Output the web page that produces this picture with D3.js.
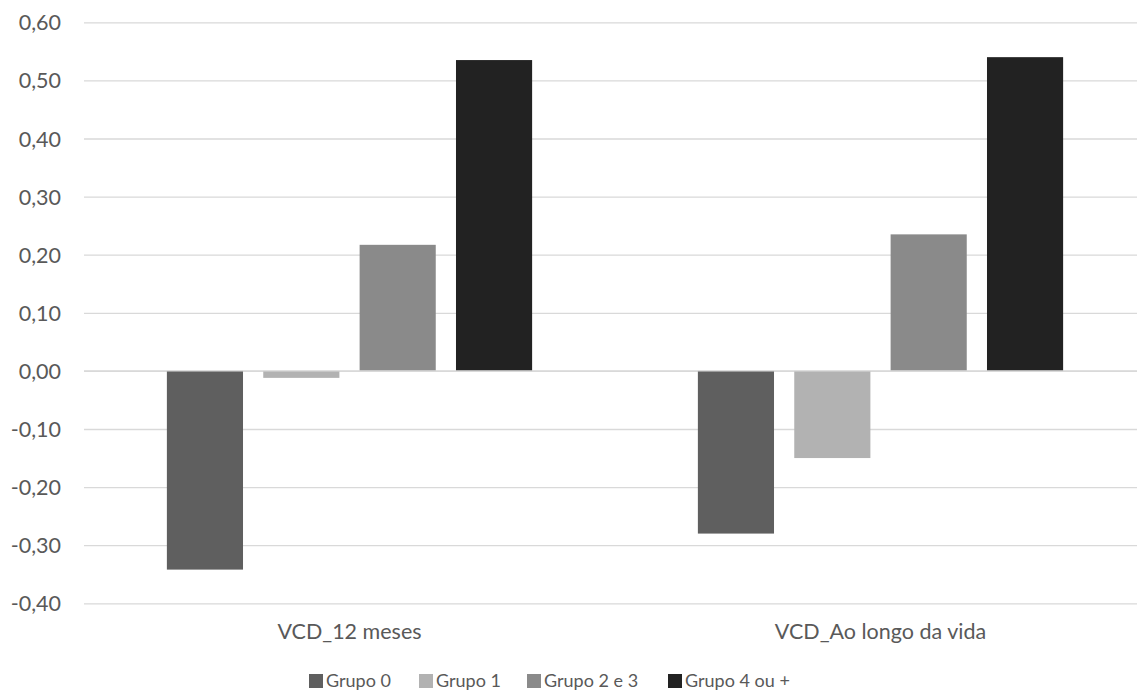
<!DOCTYPE html>
<html><head><meta charset="utf-8">
<script src="https://cdn.jsdelivr.net/npm/d3@7"></script>
<style>body{margin:0;background:#fff}svg{display:block}text{font-family:Lato,"Open Sans",sans-serif;fill:#595959}</style>
</head><body><svg id="c" width="1137" height="693"></svg>
<script>
const categories = ["VCD_12 meses", "VCD_Ao longo da vida"];
const groups = ["Grupo 0", "Grupo 1", "Grupo 2 e 3", "Grupo 4 ou +"];
const grupo0 = [-0.342, -0.280];
const grupo1 = [-0.012, -0.150];
const grupo23 = [0.217, 0.235];
const grupo4 = [0.535, 0.540];
const yTicks = [-0.4, -0.3, -0.2, -0.1, 0, 0.1, 0.2, 0.3, 0.4, 0.5, 0.6];
const colors = ["#5f5f5f", "#b2b2b2", "#8a8a8a", "#222222"];
const seriesVals = [grupo0, grupo1, grupo23, grupo4];

const svg = d3.select("#c");
const x0 = d3.scaleBand().domain(categories).range([84, 1146]);
const x1 = d3.scaleBand().domain(groups).range([0, x0.bandwidth()]).paddingInner(0.21).paddingOuter(0.86);
const y = d3.scaleLinear().domain([-0.4, 0.6]).range([603.3, 22.3]);
const color = d3.scaleOrdinal().domain(groups).range(colors);
const fmt = v => d3.format(".2f")(v).replace(".", ",").replace("−", "-");

const yAxis = d3.axisLeft(y).tickValues(yTicks).tickSize(-(1146 - 84)).tickFormat(fmt).tickPadding(23);
const ga = svg.append("g").attr("transform", "translate(84,0)").call(yAxis);
ga.select(".domain").remove();
ga.selectAll(".tick line").attr("stroke", "#d9d9d9").attr("stroke-width", 1.3);
ga.selectAll(".tick text").style("font-size", "21.5px").attr("fill", "#595959").attr("dy", "0.35em");

const data = categories.map((c, i) => ({c, vals: groups.map((g, j) => ({g, v: seriesVals[j][i]}))}));
const gg = svg.append("g").selectAll("g").data(data).join("g")
  .attr("transform", d => `translate(${x0(d.c)},0)`);
gg.selectAll("rect").data(d => d.vals).join("rect")
  .attr("x", d => x1(d.g)).attr("width", x1.bandwidth())
  .attr("y", d => y(Math.max(0, d.v))).attr("height", d => Math.abs(y(d.v) - y(0)))
  .attr("fill", d => color(d.g));

svg.append("line").attr("x1", 84).attr("x2", 1146).attr("y1", y(0)).attr("y2", y(0)).attr("stroke", "#d9d9d9").attr("stroke-width", 1.3);

const xAxis = d3.axisBottom(x0).tickSize(0).tickPadding(20);
const gx = svg.append("g").attr("transform", `translate(0,${y(-0.4)})`).call(xAxis);
gx.select(".domain").remove();
gx.selectAll("text").style("font-size", "21.5px").attr("fill", "#595959");

const legendX = [309, 419, 527, 668];
const lg = svg.append("g").selectAll("g").data(groups).join("g")
  .attr("transform", (d, i) => `translate(${legendX[i]},681)`);
lg.append("rect").attr("x", 0).attr("y", -7).attr("width", 14).attr("height", 14).attr("fill", d => color(d));
lg.append("text").attr("x", 17).attr("dy", "0.35em").style("font-size", "18px").text(d => d);
</script></body></html>
